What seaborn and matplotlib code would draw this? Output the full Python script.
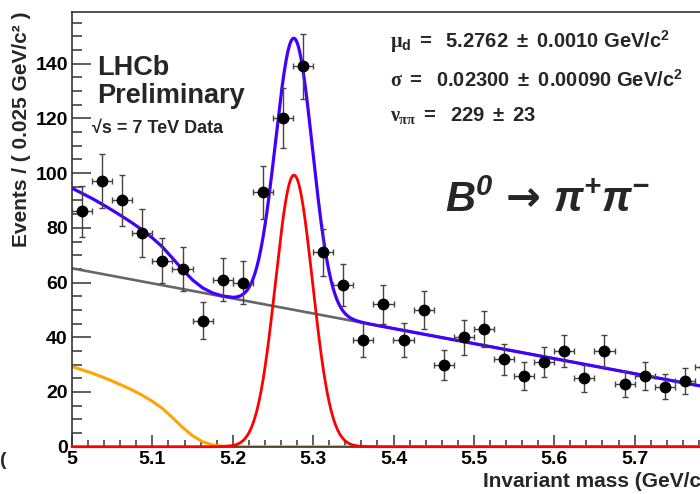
import numpy as np
import pandas as pd
import matplotlib
matplotlib.use("Agg")
import matplotlib.pyplot as plt
from matplotlib.ticker import MultipleLocator
import seaborn as sns

# binned data: 0.025 GeV/c^2 bins starting at 5.0
bin_lo = 5.0
bin_width = 0.025
counts = [86, 97, 90, 78, 68, 65, 46, 61, 60, 93, 120, 139, 71, 59, 39, 52,
          39, 50, 30, 40, 43, 32, 26, 31, 35, 25, 35, 23, 26, 22, 24, 29]

# fit results quoted on the plot
mu_d = 5.2762
sigma = 0.02300
n_pipi = 229

# combinatorial background (straight line), end points
comb_x = [5.0, 5.8]
comb_y = [65.2, 21.2]

# partially reconstructed background
prec_x = [5.0, 5.0125, 5.025, 5.0375, 5.05, 5.0625, 5.075, 5.0875, 5.1,
          5.1125, 5.125, 5.1375, 5.15, 5.1625, 5.175, 5.1875, 5.2]
prec_y = [29.3, 28.1, 26.9, 25.5, 24.0, 22.4, 20.7, 18.8, 16.6,
          14.0, 10.6, 7.1, 4.0, 1.8, 0.6, 0.15, 0.0]

# 5.8 sits just past the right edge of the picture, so no label there
x_ticks = [5.0, 5.1, 5.2, 5.3, 5.4, 5.5, 5.6, 5.7]
x_tick_labels = ["5", "5.1", "5.2", "5.3", "5.4", "5.5", "5.6", "5.7"]
y_ticks = [0, 20, 40, 60, 80, 100, 120, 140]

centres = bin_lo + bin_width * (np.arange(len(counts)) + 0.5)
errs = np.sqrt(counts)

# curves: orange is known on its own points, zero beyond 5.2
x_hi = np.linspace(5.2, 5.8, 481)[1:]
x_all = np.concatenate([prec_x, x_hi])
prec_all = np.concatenate([prec_y, np.zeros(len(x_hi))])
sig_all = n_pipi * bin_width / (np.sqrt(2 * np.pi) * sigma) * \
    np.exp(-0.5 * ((x_all - mu_d) / sigma) ** 2)
slope = (comb_y[1] - comb_y[0]) / (comb_x[1] - comb_x[0])
comb_all = comb_y[0] + slope * (x_all - comb_x[0])
curves = pd.DataFrame({"x": x_all, "sig": sig_all, "comb": comb_all,
                       "prec": prec_all,
                       "total": sig_all + comb_all + prec_all})

sns.set_theme(style="ticks")
plt.rcParams["font.family"] = ["Liberation Sans", "DejaVu Sans"]
plt.rcParams["font.weight"] = "bold"
plt.rcParams["mathtext.fontset"] = "custom"
plt.rcParams["mathtext.rm"] = "Liberation Sans:bold"
plt.rcParams["mathtext.it"] = "Liberation Serif"
plt.rcParams["mathtext.bf"] = "Liberation Sans:bold:italic"
plt.rcParams["mathtext.sf"] = "DejaVu Sans:bold"

fig = plt.figure(figsize=(7, 4.94), dpi=100)
ax = fig.add_axes([72 / 700, 1 - 446.7 / 494, (715 - 72) / 700, 435 / 494])

sns.lineplot(data=curves, x="x", y="prec", ax=ax, color="#ffa500", lw=2.2,
             zorder=2)
sns.lineplot(data=curves, x="x", y="comb", ax=ax, color="#666666", lw=1.9,
             zorder=2)
sns.lineplot(data=curves, x="x", y="sig", ax=ax, color="#ff0000", lw=2.0,
             zorder=3, clip_on=False)
sns.lineplot(data=curves, x="x", y="total", ax=ax, color="#4400ff", lw=2.3,
             zorder=4)

ax.errorbar(centres, counts, xerr=bin_width / 2, yerr=errs, fmt="o",
            color="black", ecolor="#444444", elinewidth=1.0, capsize=2.2,
            capthick=1.0, markersize=7.5, zorder=6)

ax.set_xlim(5.0, 5.8)
ax.set_ylim(0, 159)
ax.set_xticks(x_ticks)
ax.set_xticklabels(x_tick_labels)
ax.set_yticks(y_ticks)
ax.xaxis.set_minor_locator(MultipleLocator(0.02))
ax.yaxis.set_minor_locator(MultipleLocator(5))
ax.tick_params(axis="both", which="both", direction="in", color="#333333",
               labelsize=14, labelcolor="black", top=False, right=False)
ax.tick_params(axis="y", which="major", length=13.5, width=1.1, pad=3)
ax.tick_params(axis="y", which="minor", length=7, width=1.1)
ax.tick_params(axis="x", which="major", length=9, width=1.1, pad=3)
ax.tick_params(axis="x", which="minor", length=5, width=1.1)
for side in ax.spines.values():
    side.set_color("#333333")
    side.set_linewidth(1.2)

ax.set_ylabel("Events / ( 0.025 GeV/c² )", loc="top", fontsize=15,
              fontweight="bold")
ax.yaxis.set_label_coords(-0.064, 1.0)
ax.set_xlabel("Invariant mass (GeV/c²)", loc="right", fontsize=15,
              fontweight="bold")
ax.xaxis.set_label_coords(1.0, -0.058)

fig.text(97 / 700, 1 - 75 / 494, "LHCb", fontsize=19.5, fontweight="bold",
         va="baseline")
fig.text(97 / 700, 1 - 103 / 494, "Preliminary", fontsize=19.5,
         fontweight="bold", va="baseline")
fig.text(92 / 700, 1 - 133 / 494, "√s = 7 TeV Data", fontsize=13,
         fontweight="bold", va="baseline")

fig.text(390 / 700, 1 - 48 / 494,
         r"$\mu_{\mathrm{d}}\mathrm{\ =\ \ 5.2762\ \pm\ 0.0010\ GeV/c^{2}}$",
         fontsize=14.5, va="baseline")
fig.text(390 / 700, 1 - 87 / 494,
         r"$\sigma\mathrm{\ =\ \ 0.02300\ \pm\ 0.00090\ GeV/c^{2}}$",
         fontsize=14.5, va="baseline")
fig.text(390 / 700, 1 - 121 / 494,
         r"$\nu_{\pi\pi}\mathrm{\ =\ \ 229\ \pm\ 23}$",
         fontsize=14.5, va="baseline")
fig.text(445 / 700, 1 - 212 / 494,
         r"$\mathbf{B^{0}}\,\mathsf{\rightarrow}\,\mathbf{\pi^{+}\pi^{-}}$",
         fontsize=30, va="baseline")

fig.text(0.0, 1 - 465 / 494, "(", fontsize=14, fontweight="bold",
         va="baseline")

fig.savefig("out.png", dpi=100)
